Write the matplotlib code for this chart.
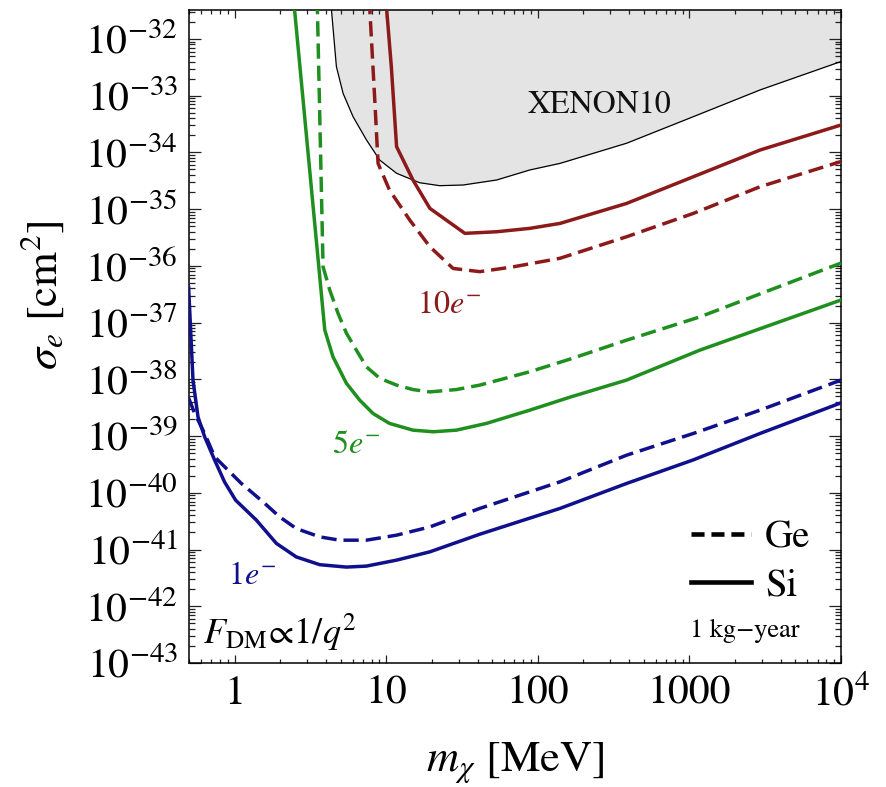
import matplotlib
matplotlib.use("Agg")
import matplotlib.pyplot as plt
from matplotlib.lines import Line2D
from matplotlib.ticker import LogLocator, NullFormatter, FixedLocator

plt.rcParams['mathtext.fontset'] = 'stix'
plt.rcParams['font.family'] = ['STIXGeneral', 'DejaVu Sans']

# Dark matter mass [MeV] and reach in sigma_e [cm^2]
si_1e_mass = [0.497, 0.531, 0.573, 0.634, 0.738, 0.859, 1.015, 1.39, 1.885, 2.55, 3.64,
              5.46, 7.4, 11.7, 19.4, 41.4, 140, 385, 1060, 2920, 10000]
si_1e_sigma = [4.2e-37, 9.7e-39, 2.18e-39, 9.7e-40, 3.76e-40, 1.54e-40, 7.4e-41, 3.3e-41,
               1.28e-41, 7.4e-42, 5.4e-42, 4.9e-42, 5.1e-42, 6.5e-42, 9.1e-42, 1.86e-41,
               5.3e-41, 1.46e-40, 3.8e-40, 1.11e-39, 3.85e-39]

ge_1e_mass = [0.497, 0.545, 0.634, 0.738, 0.903, 1.107, 1.54, 1.98, 2.55, 3.64, 4.93, 7.4,
              11.7, 19.4, 41.4, 140, 385, 1060, 2920, 10000]
ge_1e_sigma = [4.7e-39, 2.5e-39, 1.11e-39, 4.3e-40, 2.51e-40, 1.46e-40, 6.9e-41, 3.76e-41,
               2.34e-41, 1.67e-41, 1.46e-41, 1.46e-41, 1.79e-41, 2.5e-41, 5.3e-41, 1.56e-40,
               4.6e-40, 1.11e-39, 2.86e-39, 9.7e-39]

si_5e_mass = [2.38, 3.93, 4.45, 5.46, 6.68, 8.18, 10.5, 15.0, 20.4, 29.0, 45.8, 88.5, 163,
              385, 1172, 3400, 10000]
si_5e_sigma = [1.1e-31, 7.4e-38, 2.5e-38, 8.5e-39, 4.3e-39, 2.5e-39, 1.67e-39, 1.27e-39,
               1.19e-39, 1.27e-39, 1.67e-39, 2.86e-39, 4.85e-39, 9.7e-39, 3.27e-38, 9.0e-38,
               2.5e-37]

ge_5e_mass = [3.48, 3.83, 4.24, 4.81, 5.46, 6.35, 7.4, 9.06, 11.7, 15.0, 19.4, 29.0, 41.4,
              88.5, 163, 385, 1172, 3400, 10000]
ge_5e_sigma = [1.1e-31, 9.6e-37, 3.74e-37, 1.45e-37, 6.5e-38, 3.27e-38, 1.66e-38, 1.04e-38,
               7.9e-39, 6.6e-39, 6.0e-39, 6.6e-39, 7.9e-39, 1.36e-38, 2.27e-38, 4.9e-38,
               1.26e-37, 3.74e-37, 1.12e-36]

si_10e_mass = [9.7, 10.8, 11.7, 15.0, 19.4, 33.0, 53.4, 88.5, 140, 385, 1060, 2920, 10000]
si_10e_sigma = [1.1e-31, 3.24e-33, 1.26e-34, 3.26e-35, 1.03e-35, 3.74e-36, 3.99e-36,
                4.58e-36, 5.6e-36, 1.26e-35, 3.72e-35, 1.10e-34, 3.04e-34]

ge_10e_mass = [7.6, 8.4, 8.83, 10.5, 14.3, 19.4, 27.6, 41.4, 68.7, 140, 385, 1060, 2920, 10000]
ge_10e_sigma = [1.1e-31, 8.4e-34, 6.4e-35, 2.17e-35, 6.4e-36, 2.17e-36, 9.0e-37, 7.9e-37,
                9.6e-37, 1.36e-36, 3.26e-36, 8.4e-36, 2.48e-35, 6.9e-35]

xenon10_mass = [4.3, 4.35, 4.69, 5.19, 6.04, 7.4, 9.06, 11.7, 16.6, 22.5, 32.1, 53.4, 88.5,
                140, 385, 1060, 2920, 10000]
xenon10_sigma = [1.1e-31, 3.27e-32, 3.24e-33, 1.10e-33, 4.26e-34, 1.66e-34, 7.3e-35, 4.28e-35,
                 2.92e-35, 2.59e-35, 2.66e-35, 3.26e-35, 4.9e-35, 6.4e-35, 1.45e-34, 4.26e-34,
                 1.26e-33, 4.0e-33]

x_ticks = [1, 10, 100, 1000, 10000]
x_tick_labels = ['1', '10', '100', '1000', r'$10^{4}$']
y_exponents = list(range(-43, -31))

RED = '#8c1a1a'
GREEN = '#1f8f1f'
BLUE = '#10108c'

fig = plt.figure(figsize=(8.87, 7.87), dpi=100)
ax = fig.add_axes([0.2131, 0.1576, 0.7351, 0.8297])
ax.set_xscale('log')
ax.set_yscale('log')
ax.set_xlim(0.5, 1e4)
ax.set_ylim(1e-43, 10 ** -31.49)

# XENON10 excluded region
ax.fill_between(xenon10_mass, xenon10_sigma, 1e-30, color='#e4e4e4', lw=0, zorder=1)
ax.plot(xenon10_mass, xenon10_sigma, color='black', lw=0.9, zorder=2)

lw = 2.5
dash = (0, (4.4, 2.0))
ax.plot(si_1e_mass, si_1e_sigma, color=BLUE, lw=lw, zorder=3)
ax.plot(ge_1e_mass, ge_1e_sigma, color=BLUE, lw=lw, ls=dash, zorder=3)
ax.plot(si_5e_mass, si_5e_sigma, color=GREEN, lw=lw, zorder=3)
ax.plot(ge_5e_mass, ge_5e_sigma, color=GREEN, lw=lw, ls=dash, zorder=3)
ax.plot(si_10e_mass, si_10e_sigma, color=RED, lw=lw, zorder=3)
ax.plot(ge_10e_mass, ge_10e_sigma, color=RED, lw=lw, ls=dash, zorder=3)

# Axes styling
ax.xaxis.set_major_locator(FixedLocator(x_ticks))
ax.set_xticklabels(x_tick_labels)
ax.xaxis.set_minor_locator(LogLocator(base=10, subs=range(2, 10), numticks=100))
ax.xaxis.set_minor_formatter(NullFormatter())
ax.yaxis.set_major_locator(FixedLocator([10.0 ** e for e in y_exponents]))
ax.set_yticklabels([r'$10^{%d}$' % e for e in y_exponents])
ax.yaxis.set_minor_locator(LogLocator(base=10, subs=range(2, 10), numticks=100))
ax.yaxis.set_minor_formatter(NullFormatter())

ax.tick_params(which='both', direction='in', top=True, right=True, width=0.9, color='#222222')
ax.tick_params(axis='x', which='major', length=5.5, labelsize=30, pad=9)
ax.tick_params(axis='x', which='minor', length=3)
ax.tick_params(axis='y', which='major', length=8.5, labelsize=30, pad=8)
ax.tick_params(axis='y', which='minor', length=4)
for s in ax.spines.values():
    s.set_linewidth(1.1)

ax.text(0.5, -0.152, r'$m_\chi$ [MeV]', transform=ax.transAxes, ha='center', va='center',
        fontsize=32)
ax.text(-0.225, 0.563, r'$\sigma_e$ [cm$^2$]', transform=ax.transAxes, ha='center',
        va='center', rotation=90, fontsize=32)

# Annotations
ax.text(256, 6.9e-34, 'XENON10', fontsize=23, ha='center', va='center', color='#111111')
ax.text(25.9, 2.0e-37, r'$10e^{-}$', fontsize=23, ha='center', va='center', color=RED)
ax.text(6.3, 6.9e-40, r'$5e^{-}$', fontsize=23, ha='center', va='center', color=GREEN)
ax.text(1.31, 3.4e-42, r'$1e^{-}$', fontsize=23, ha='center', va='center', color=BLUE)
ax.text(0.62, 1.5e-43, r'$F_{\rm DM}\!\propto\!1/q^2$', fontsize=26, ha='left',
        va='bottom', color='black')
ax.text(0.853, 0.049, '1 kg\u2212year', transform=ax.transAxes, fontsize=19,
        ha='center', va='center')

handles = [Line2D([], [], color='black', lw=3.3, ls=(0, (2.85, 1.5))),
           Line2D([], [], color='black', lw=3.3)]
ax.legend(handles, ['Ge', 'Si'], loc='upper left', bbox_to_anchor=(0.77, 0.218),
          frameon=False, fontsize=28, handlelength=1.55, handletextpad=0.35,
          labelspacing=0.33, borderpad=0, borderaxespad=0)

fig.savefig('out.png', dpi=100)
